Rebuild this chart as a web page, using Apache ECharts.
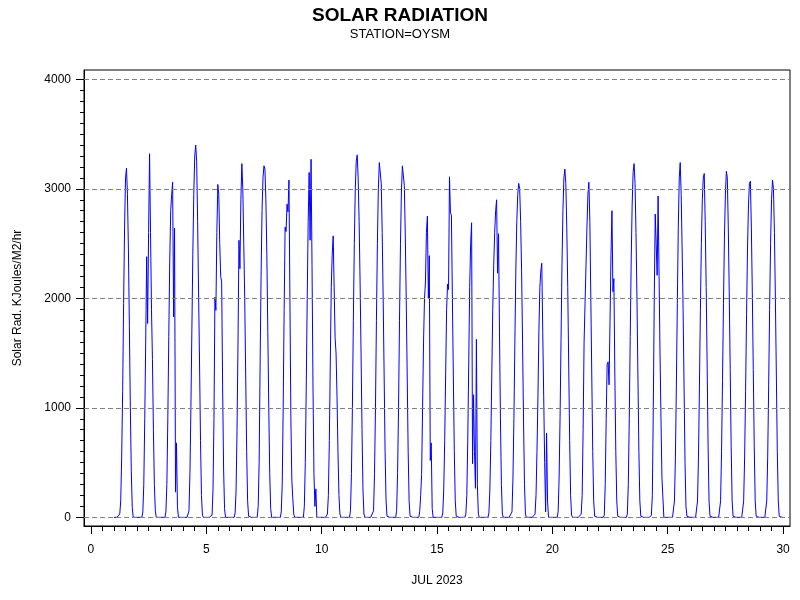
<!DOCTYPE html>
<html>
<head>
<meta charset="utf-8">
<script src="https://cdn.jsdelivr.net/npm/echarts@6/dist/echarts.min.js"></script>
<style>
html,body{margin:0;padding:0;background:#fff;}
#chart{width:800px;height:600px;}
</style>
</head>
<body>
<div id="chart"></div>
<script>
// Hourly solar radiation (KJoules/M2/hr), hours 0..23, July 1..29 2023
const jul01 = [0,0,0,0,0,0,30,150,550,1150,1950,2650,3100,3190,2950,2450,1750,1000,420,90,0,0,0,0];
const jul02 = [0,0,0,0,0,0,50,300,900,1600,2380,1770,2600,3320,2600,1900,1440,800,300,60,0,0,0,0];
const jul03 = [0,0,0,0,0,0,50,300,900,1650,2350,2800,2950,3060,1830,2640,230,680,100,0,0,0,0,0];
const jul04 = [0,0,0,0,0,0,60,400,1000,1700,2400,2950,3300,3400,3250,2700,2050,1400,700,200,20,0,0,0];
const jul05 = [0,0,0,0,0,0,20,250,900,2010,1890,2600,3040,2950,2500,2200,2150,1200,450,80,0,0,0,0];
const jul06 = [0,0,0,0,0,0,40,250,800,1600,2530,2270,2900,3230,3000,2500,2000,1300,600,150,10,0,0,0];
const jul07 = [0,0,0,0,0,0,100,500,1400,2200,2800,3100,3210,3180,2900,2400,1700,1000,400,80,0,0,0,0];
const jul08 = [0,0,0,0,0,0,50,300,1000,1900,2650,2610,2860,2790,3080,2000,900,340,170,30,0,0,0,0];
const jul09 = [0,0,0,0,0,0,100,500,1200,2000,2700,3150,2530,3270,2300,1200,400,100,260,0,0,0,0,0];
const jul10 = [0,0,0,0,0,0,30,200,700,1400,2100,2400,2570,2570,1640,1500,1100,600,200,30,0,0,0,0];
const jul11 = [0,0,0,0,0,0,60,400,1000,1800,2500,3000,3250,3310,3100,2700,2150,1500,800,250,30,0,0,0];
const jul12 = [0,0,0,0,0,0,60,400,1000,1800,2500,3000,3240,3250,3050,2600,2000,1300,600,150,10,0,0,0];
const jul13 = [0,0,0,0,0,0,60,400,1000,1800,2500,2980,3210,3220,3030,2580,1980,1300,600,150,10,0,0,0];
const jul14 = [0,0,0,0,0,0,50,200,390,1000,1600,2000,2150,2600,2750,2000,2390,520,680,80,0,0,0,0];
const jul15 = [0,0,0,0,0,0,40,250,700,1300,1900,2130,2080,3110,2780,2760,2000,1300,600,150,10,0,0,0];
const jul16 = [0,0,0,0,0,0,30,200,700,1400,2100,2500,2690,490,1120,600,265,1625,300,30,0,0,0,0];
const jul17 = [0,0,0,0,0,0,40,250,700,1300,1900,2300,2600,2800,2900,2230,2590,1700,900,300,30,0,0,0];
const jul18 = [0,0,0,0,0,0,50,350,900,1600,2250,2700,2950,3050,3000,2700,2250,1600,900,300,30,0,0,0];
const jul19 = [0,0,0,0,0,0,30,200,600,1100,1700,2100,2250,2320,1700,1100,500,50,770,150,0,0,0,0];
const jul20 = [0,0,0,0,0,0,50,350,900,1600,2300,2800,3100,3180,3050,2650,2100,1400,700,200,20,0,0,0];
const jul21 = [0,0,0,0,0,0,30,200,800,1600,1950,2300,2650,2950,3060,2700,2000,1300,600,150,10,0,0,0];
const jul22 = [0,0,0,0,0,0,20,300,900,1400,1420,1210,1800,2400,2800,2060,2180,1300,600,150,10,0,0,0];
const jul23 = [0,0,0,0,0,0,30,300,900,1650,2350,2850,3150,3230,3050,2600,2000,1300,600,150,10,0,0,0];
const jul24 = [0,0,0,0,0,0,10,20,200,1000,2000,2770,2500,2210,2935,2200,1500,900,360,350,0,0,0,0];
const jul25 = [0,0,0,0,0,0,10,150,550,1200,1950,2650,3100,3240,2950,2450,1900,1200,500,100,10,0,0,0];
const jul26 = [0,0,0,0,0,0,10,150,550,1200,1900,2500,2900,3100,3140,2700,2100,1400,650,150,10,0,0,0];
const jul27 = [0,0,0,0,0,0,10,150,600,1250,1950,2550,2950,3160,3100,2650,2050,1350,650,150,10,0,0,0];
const jul28 = [0,0,0,0,0,0,10,150,550,1150,1850,2450,2850,3050,3070,2650,2050,1350,650,150,10,0,0,0];
const jul29 = [0,0,0,0,0,0,10,150,550,1200,1900,2500,2900,3080,3000,2600,2000,1300,600,150,10,0,0,0];
const jul30 = [0];

const days = [jul01,jul02,jul03,jul04,jul05,jul06,jul07,jul08,jul09,jul10,
              jul11,jul12,jul13,jul14,jul15,jul16,jul17,jul18,jul19,jul20,
              jul21,jul22,jul23,jul24,jul25,jul26,jul27,jul28,jul29,jul30];

const xTickLabels = [0,5,10,15,20,25,30];
const yTickLabels = [0,1000,2000,3000,4000];

const titleText = 'SOLAR RADIATION';
const subtitleText = 'STATION=OYSM';
const xName = 'JUL 2023';
const yName = 'Solar Rad. KJoules/M2/hr';

// build (day + hour/24, value) pairs
const seriesData = [];
days.forEach(function (vals, i) {
  const d = i + 1;
  vals.forEach(function (v, h) { seriesData.push([d + h / 24, v]); });
});

// minor tick positions
const xMinor = []; for (let k = 0; k <= 60; k++) xMinor.push(k * 0.5);
const yMinor = []; for (let k = 0; k <= 40; k++) yMinor.push(k * 100);

const XMIN = -0.30, XMAX = 30.30, YMIN = -79, YMAX = 4085;
const FONT = "'Liberation Sans', Arial, Helvetica, sans-serif";
const plain = function (v) { return String(v); };

const chart = echarts.init(document.getElementById('chart'), null, {renderer: 'canvas'});
chart.setOption({
  animation: false,
  backgroundColor: '#ffffff',
  textStyle: {fontFamily: FONT, color: '#000'},
  title: [
    {text: titleText, left: 'center', top: 1,
     textStyle: {fontSize: 19, fontWeight: 'bold', color: '#000', fontFamily: FONT}},
    {text: subtitleText, left: 'center', top: 23,
     textStyle: {fontSize: 13, fontWeight: 'normal', color: '#000', fontFamily: FONT}}
  ],
  grid: {left: 84, right: 10, top: 70, bottom: 74, show: true,
         borderColor: '#000', borderWidth: 1, backgroundColor: 'transparent'},
  xAxis: [
    {type: 'value', min: XMIN, max: XMAX, position: 'bottom',
     name: xName, nameLocation: 'middle', nameGap: 49,
     nameTextStyle: {fontSize: 12, color: '#000', fontFamily: FONT},
     axisLine: {show: true, onZero: false, lineStyle: {color: '#000', width: 1}},
     axisTick: {show: true, customValues: xTickLabels, length: 8, lineStyle: {color: '#000'}},
     axisLabel: {show: true, customValues: xTickLabels, formatter: plain, margin: 18, fontSize: 12, color: '#000', fontFamily: FONT},
     splitLine: {show: false}},
    {type: 'value', min: XMIN, max: XMAX, position: 'bottom', offset: 0,
     axisLine: {show: false, onZero: false},
     axisTick: {show: true, customValues: xMinor, length: 5, lineStyle: {color: '#000'}},
     axisLabel: {show: false},
     splitLine: {show: false}}
  ],
  yAxis: [
    {type: 'value', min: YMIN, max: YMAX, position: 'left',
     name: yName, nameLocation: 'middle', nameGap: 60,
     nameTextStyle: {fontSize: 12, color: '#000', fontFamily: FONT},
     axisLine: {show: true, onZero: false, lineStyle: {color: '#000', width: 1}},
     axisTick: {show: true, customValues: yTickLabels, length: 8, lineStyle: {color: '#000'}},
     axisLabel: {show: true, customValues: yTickLabels, formatter: plain, margin: 13, fontSize: 12, color: '#000', fontFamily: FONT},
     splitLine: {show: false}},
    {type: 'value', min: YMIN, max: YMAX, position: 'left', offset: 0,
     axisLine: {show: false, onZero: false},
     axisTick: {show: true, customValues: yMinor, length: 4, lineStyle: {color: '#000'}},
     axisLabel: {show: false},
     splitLine: {show: false}}
  ],
  series: [{
    type: 'line',
    xAxisIndex: 0, yAxisIndex: 0,
    data: seriesData,
    showSymbol: false,
    symbol: 'none',
    clip: true,
    lineStyle: {color: '#0000ff', width: 1},
    markLine: {
      silent: true, symbol: 'none', animation: false,
      label: {show: false},
      lineStyle: {color: '#808080', type: [5, 3], width: 1},
      data: yTickLabels.map(function (v) { return {yAxis: v}; })
    }
  }]
});
</script>
</body>
</html>
